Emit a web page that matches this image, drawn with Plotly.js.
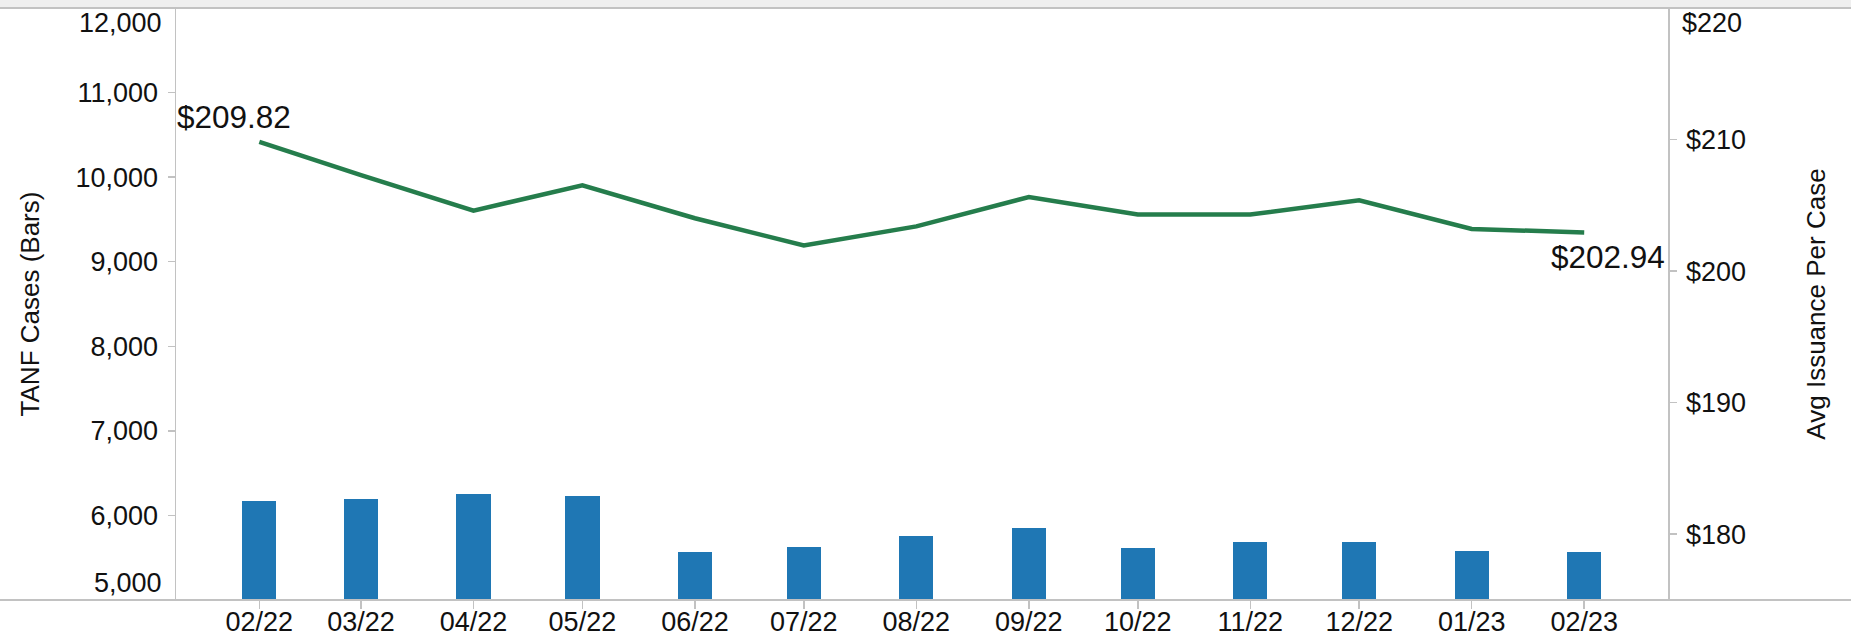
<!DOCTYPE html>
<html>
<head>
<meta charset="utf-8">
<script src="https://cdn.plot.ly/plotly-3.0.1.min.js"></script>
<style>
  html, body { margin: 0; padding: 0; background: #ffffff; }
  #chart { width: 1851px; height: 641px; }
</style>
</head>
<body>
<div id="chart"></div>
<script>
// ---- Data ----
const months = ['2022-02-01','2022-03-01','2022-04-01','2022-05-01','2022-06-01','2022-07-01',
                '2022-08-01','2022-09-01','2022-10-01','2022-11-01','2022-12-01','2023-01-01','2023-02-01'];
const tickLabels = ['02/22','03/22','04/22','05/22','06/22','07/22','08/22','09/22','10/22','11/22','12/22','01/23','02/23'];
const tanfCases = [6170, 6195, 6255, 6230, 5562, 5632, 5760, 5855, 5620, 5690, 5690, 5574, 5562];
const avgIssuance = [209.82, 207.30, 204.60, 206.52, 204.02, 201.95, 203.40, 205.63, 204.30, 204.30, 205.38, 203.20, 202.94];
const leftTicks = [6000, 7000, 8000, 9000, 10000, 11000];
const rightTicks = [180, 190, 200, 210];

// ---- Styling ----
const FONT = '"Liberation Sans", Arial, sans-serif';
const TXT = '#111111';
const AXC = '#c2c2c2';
const BAR = '#1f77b4';
const LINE = '#257d4c';
const DAY = 86400000;
const TICK_SIZE = 27;

const fmt = v => v.toLocaleString('en-US');

const traces = [
  {
    type: 'bar', x: months, y: tanfCases, yaxis: 'y', xaxis: 'x',
    width: 9.45 * DAY,
    marker: { color: BAR, line: { width: 0 } },
    hoverinfo: 'x+y'
  },
  {
    type: 'scatter', mode: 'lines', x: months, y: avgIssuance, yaxis: 'y2', xaxis: 'x',
    line: { color: LINE, width: 4.5 },
    hoverinfo: 'x+y'
  }
];

const n = avgIssuance.length;
const layout = {
  width: 1851, height: 641,
  margin: { l: 176, r: 183, t: 8, b: 41, pad: 0 },
  paper_bgcolor: '#ffffff', plot_bgcolor: '#ffffff',
  showlegend: false,
  font: { family: FONT, color: TXT, size: TICK_SIZE },
  bargap: 0,
  xaxis: {
    type: 'date',
    range: ['2022-01-09 01:00', '2023-02-24 02:00'],
    tickmode: 'array', tickvals: months, ticktext: tickLabels,
    ticks: 'outside', ticklen: 8, tickwidth: 1.5, tickcolor: AXC,
    ticklabelstandoff: -10,
    showline: false, showgrid: false, zeroline: false,
    tickfont: { family: FONT, size: TICK_SIZE, color: TXT },
    fixedrange: true
  },
  yaxis: {
    range: [5000, 12000],
    tickmode: 'array', tickvals: leftTicks, ticktext: leftTicks.map(fmt),
    ticks: 'outside', ticklen: 7, tickwidth: 1.5, tickcolor: AXC,
    ticklabelstandoff: 4,
    showline: true, linecolor: AXC, linewidth: 1.5,
    showgrid: false, zeroline: false,
    tickfont: { family: FONT, size: TICK_SIZE, color: TXT },
    title: { text: 'TANF Cases (Bars)', font: { family: FONT, size: 26, color: TXT }, standoff: 28 },
    fixedrange: true
  },
  yaxis2: {
    overlaying: 'y', side: 'right',
    range: [175, 220],
    tickmode: 'array', tickvals: rightTicks, ticktext: rightTicks.map(v => '$' + v),
    ticks: 'outside', ticklen: 7, tickwidth: 1.5, tickcolor: AXC,
    ticklabelstandoff: 4,
    showline: true, linecolor: AXC, linewidth: 1.5,
    showgrid: false, zeroline: false,
    tickfont: { family: FONT, size: TICK_SIZE, color: TXT },
    title: { text: 'Avg Issuance Per Case', font: { family: FONT, size: 26, color: TXT }, standoff: 62 },
    fixedrange: true
  },
  shapes: [
    { type: 'rect', xref: 'paper', yref: 'paper', x0: -0.2, x1: 1.2, y0: 1.0013, y1: 1.05,
      fillcolor: '#efefef', line: { width: 0 }, layer: 'below' },
    { type: 'line', xref: 'paper', yref: 'paper', x0: -0.2, x1: 1.2, y0: 1, y1: 1,
      line: { color: AXC, width: 2 } },
    { type: 'line', xref: 'paper', yref: 'paper', x0: -0.2, x1: 1.2, y0: 0, y1: 0,
      line: { color: AXC, width: 2 } }
  ],
  annotations: [
    { xref: 'x', yref: 'y2', x: months[0], y: avgIssuance[0],
      text: '$' + avgIssuance[0].toFixed(2), showarrow: false,
      xanchor: 'left', yanchor: 'bottom', xshift: -84, yshift: 5,
      font: { family: FONT, size: 31.5, color: TXT } },
    { xref: 'x', yref: 'y2', x: months[n - 1], y: avgIssuance[n - 1],
      text: '$' + avgIssuance[n - 1].toFixed(2), showarrow: false,
      xanchor: 'right', yanchor: 'top', xshift: 83, yshift: -5,
      font: { family: FONT, size: 31.5, color: TXT } },
    { xref: 'paper', yref: 'y', x: 0, y: 12000, text: fmt(12000), showarrow: false,
      xanchor: 'right', yanchor: 'middle', xshift: -12, yshift: -15,
      font: { family: FONT, size: TICK_SIZE, color: TXT } },
    { xref: 'paper', yref: 'y', x: 0, y: 5000, text: fmt(5000), showarrow: false,
      xanchor: 'right', yanchor: 'middle', xshift: -12, yshift: 17,
      font: { family: FONT, size: TICK_SIZE, color: TXT } },
    { xref: 'paper', yref: 'y2', x: 1, y: 220, text: '$220', showarrow: false,
      xanchor: 'left', yanchor: 'middle', xshift: 12, yshift: -15,
      font: { family: FONT, size: TICK_SIZE, color: TXT } }
  ]
};

Plotly.newPlot('chart', traces, layout, { displayModeBar: false, staticPlot: true });
</script>
</body>
</html>
